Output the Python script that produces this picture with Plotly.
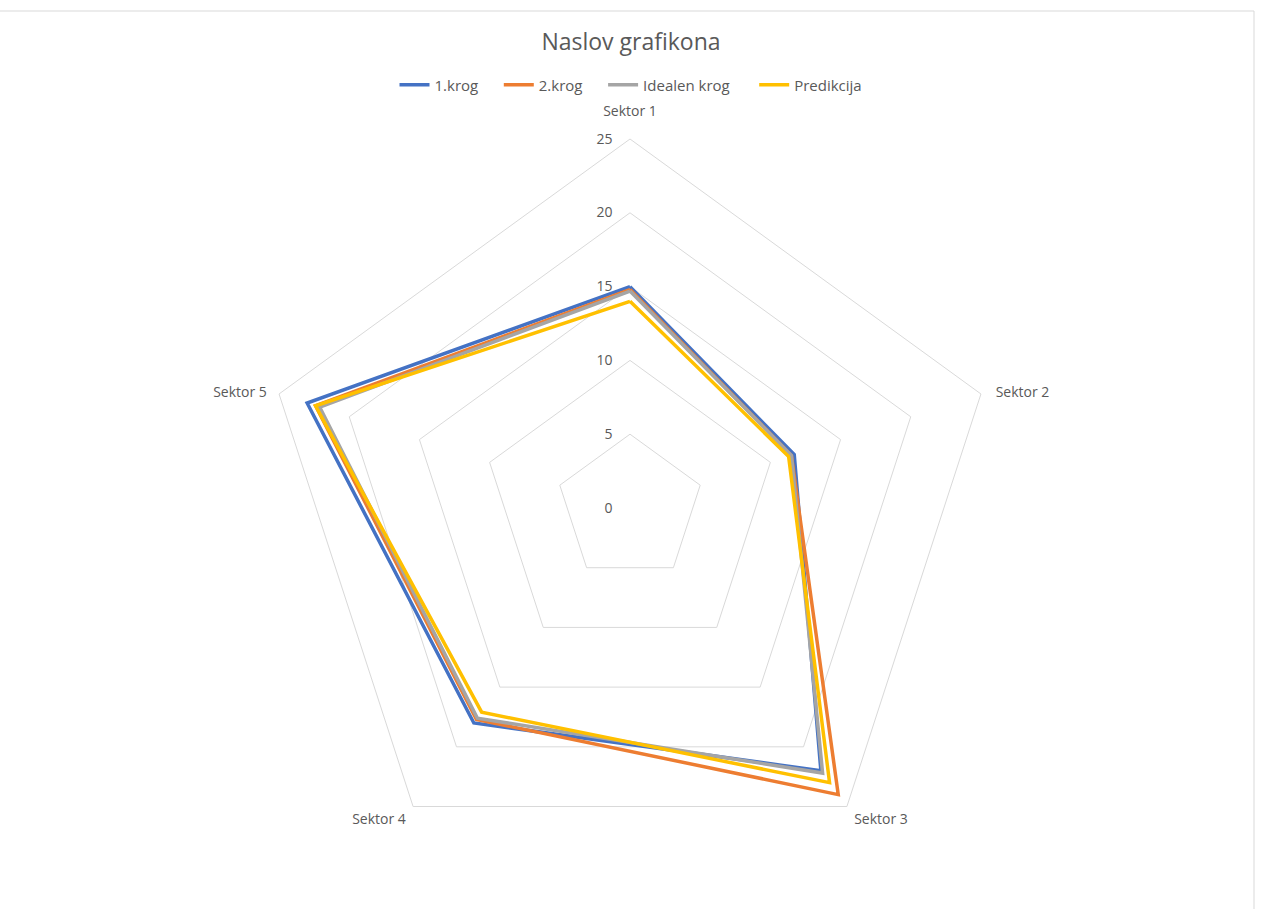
import plotly.graph_objects as go

# Sector labels and lap times per series
sektorji = ["Sektor 1", "Sektor 2", "Sektor 3", "Sektor 4", "Sektor 5"]
krog_1 = [15.0, 11.7, 22.0, 18.0, 23.0]
krog_2 = [14.8, 11.5, 24.0, 17.7, 22.4]
idealen_krog = [14.7, 11.5, 22.2, 17.6, 22.1]
predikcija = [14.0, 11.3, 23.0, 17.1, 22.4]
radial_ticks = [0, 5, 10, 15, 20, 25]
r_max = 25

NBSP = "\u00a0"
series = [
    ("1.krog", krog_1, "#4472C4", 4),
    ("2.krog", krog_2, "#ED7D31", 4),
    ("Idealen krog", idealen_krog, "#A5A5A5", 5),
    ("Predikcija", predikcija, "#FFC000", 0),
]

W, H = 1262, 909
cx, cy, R = 630, 508, 369  # polar centre and outer radius in pixels

fig = go.Figure()
for name, vals, color, pad in series:
    fig.add_trace(go.Scatterpolar(
        r=vals + vals[:1],
        theta=sektorji + sektorji[:1],
        mode="lines",
        name=name + NBSP * pad,
        line=dict(color=color, width=3.5),
    ))

# Category labels sitting just outside the outer ring vertices
fig.add_trace(go.Scatterpolar(
    r=[r_max] * len(sektorji),
    theta=sektorji,
    mode="markers+text",
    text=sektorji,
    textposition=["top center", "middle right", "bottom right",
                  "bottom left", "middle left"],
    textfont=dict(size=14, color="#595959"),
    marker=dict(size=[30, 22, 10, 10, 18], color="rgba(0,0,0,0)"),
    showlegend=False,
    hoverinfo="skip",
    cliponaxis=False,
))

font_fam = "Open Sans, Noto Sans, sans-serif"
grid_col = "#D9D9D9"

fig.update_layout(
    width=W, height=H,
    margin=dict(l=0, r=0, t=0, b=0),
    paper_bgcolor="white",
    plot_bgcolor="white",
    font=dict(family=font_fam, color="#595959", size=13),
    title=dict(
        text="Naslov grafikona",
        x=0.5, xanchor="center",
        y=1 - 42 / H, yanchor="middle",
        font=dict(size=23, color="#595959", family=font_fam),
    ),
    legend=dict(
        orientation="h",
        x=0.5, xanchor="center",
        y=1 - 85 / H, yanchor="middle",
        font=dict(size=15, color="#595959"),
        itemwidth=30,
        bgcolor="rgba(0,0,0,0)",
    ),
    polar=dict(
        domain=dict(
            x=[(cx - R) / W, (cx + R) / W],
            y=[(H - cy - R) / H, (H - cy + R) / H],
        ),
        gridshape="linear",
        bgcolor="white",
        radialaxis=dict(
            range=[0, r_max],
            tickvals=radial_ticks,
            angle=90,
            tickangle=90,
            side="counterclockwise",
            showline=False,
            ticks="outside",
            ticklen=12,
            tickcolor="rgba(0,0,0,0)",
            gridcolor=grid_col,
            gridwidth=1,
            tickfont=dict(size=14, color="#595959"),
        ),
        angularaxis=dict(
            rotation=90,
            direction="clockwise",
            showgrid=False,
            showline=True,
            linecolor=grid_col,
            linewidth=1,
            ticks="",
            showticklabels=False,
        ),
    ),
    shapes=[
        dict(type="line", xref="paper", yref="paper",
             x0=0, x1=1254 / W, y0=1 - 11 / H, y1=1 - 11 / H,
             line=dict(color="#D9D9D9", width=1)),
        dict(type="line", xref="paper", yref="paper",
             x0=1254 / W, x1=1254 / W, y0=0, y1=1 - 11 / H,
             line=dict(color="#D9D9D9", width=1)),
    ],
)

fig.write_html("out.html")
